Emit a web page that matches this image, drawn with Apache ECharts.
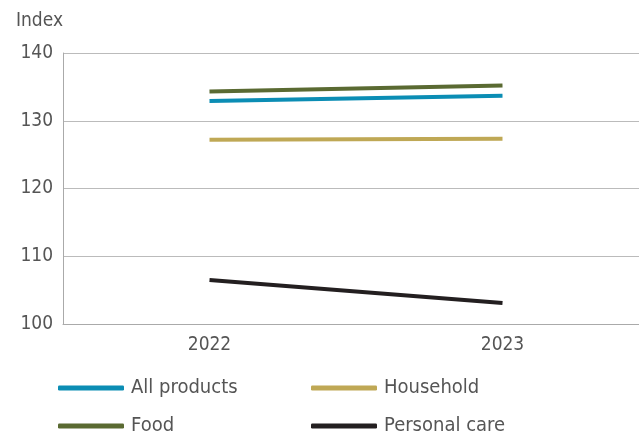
<!DOCTYPE html>
<html><head><meta charset="utf-8">
<script src="https://cdn.jsdelivr.net/npm/echarts@6/dist/echarts.min.js"></script>
<style>html,body{margin:0;padding:0;background:#fff;overflow:hidden}#c{width:649px;height:435px}</style>
</head><body><div id="c"></div>
<script>
var years = ['2022', '2023'];
var allProducts = [132.9, 133.7];
var food = [134.3, 135.2];
var household = [127.2, 127.35];
var personalCare = [106.5, 103.1];
var yTicks = {min: 100, max: 140, interval: 10};

var FONT = '"Liberation Sans Narrow","DejaVu Sans Condensed","Roboto",sans-serif';
var TXT = '#555';
var colors = {all: '#0b8db4', food: '#5a6a32', house: '#bfa855', pc: '#231f20'};

function mk(name, data, color) {
  return {name: name, type: 'line', data: data, symbol: 'none', silent: true,
    lineStyle: {width: 4, color: color}, itemStyle: {color: color}};
}
function lg(name, left, top) {
  return {left: left, top: top, itemWidth: 66, itemHeight: 5, icon: 'roundRect', itemGap: 0,
    selectedMode: false, data: [name],
    textStyle: {fontFamily: FONT, fontSize: 20, color: TXT, padding: [0,0,0,2]}};
}

var chart = echarts.init(document.getElementById('c'), null, {renderer: 'canvas'});
chart.setOption({
  animation: false,
  title: {text: 'Index', left: 11, top: 7, textStyle: {fontFamily: FONT, fontSize: 19, fontWeight: 'normal', color: TXT}},
  grid: {left: 63, right: 0, top: 53, bottom: 111},
  legend: [
    lg('All products', 53, 373),
    lg('Food', 53, 411),
    lg('Household', 306, 373),
    lg('Personal care', 306, 411)
  ],
  xAxis: {type: 'category', data: years, boundaryGap: true,
    axisLine: {lineStyle: {color: '#aaa', width: 1}},
    axisTick: {inside: true, length: 6, lineStyle: {color: '#aaa'}},
    axisLabel: {fontFamily: FONT, fontSize: 19, color: TXT, margin: 12}},
  yAxis: {type: 'value', min: yTicks.min, max: yTicks.max, interval: yTicks.interval,
    axisLine: {show: true, lineStyle: {color: '#aaa', width: 1}},
    axisTick: {show: false},
    splitLine: {lineStyle: {color: '#bbb', width: 1}},
    axisLabel: {fontFamily: FONT, fontSize: 19, color: TXT, margin: 10}},
  series: [
    mk('All products', allProducts, colors.all),
    mk('Household', household, colors.house),
    mk('Food', food, colors.food),
    mk('Personal care', personalCare, colors.pc)
  ]
});
</script></body></html>
